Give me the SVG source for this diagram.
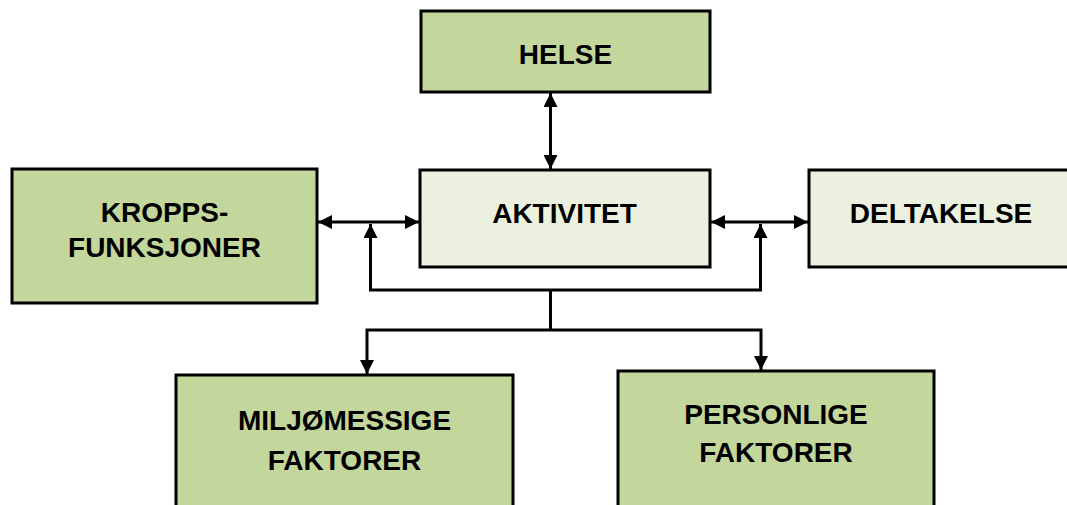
<svg xmlns="http://www.w3.org/2000/svg" width="1067" height="505" viewBox="0 0 1067 505">
<style>
.box{stroke:#000;stroke-width:3}
.g{fill:#C3D69B}
.l{fill:#EBF1DE}
text{font-family:"Liberation Sans",Arial,sans-serif;font-weight:bold;font-size:28px;fill:#000;text-anchor:middle}
.c{fill:none;stroke:#000;stroke-width:3}
</style>
<defs>
<marker id="ah" markerUnits="userSpaceOnUse" markerWidth="14" markerHeight="14" viewBox="0 0 14 14" refX="14" refY="7" orient="auto-start-reverse">
<path d="M0,0 L14,7 L0,14 z" fill="#000"/>
</marker>
</defs>
<rect width="1067" height="505" fill="#fff"/>
<g id="connectors">
<line class="c" x1="550.5" y1="93" x2="550.5" y2="169" marker-start="url(#ah)" marker-end="url(#ah)"/>
<line class="c" x1="318" y1="222" x2="419" y2="222" marker-start="url(#ah)" marker-end="url(#ah)"/>
<line class="c" x1="711" y1="222" x2="808" y2="222" marker-start="url(#ah)" marker-end="url(#ah)"/>
<polyline class="c" points="370.5,224 370.5,290 760.5,290 760.5,224" marker-start="url(#ah)" marker-end="url(#ah)"/>
<line class="c" x1="550.5" y1="290" x2="550.5" y2="330"/>
<polyline class="c" points="367,374 367,330 761,330 761,370" marker-start="url(#ah)" marker-end="url(#ah)"/>
</g>
<g id="helse">
<rect class="box g" x="421" y="11" width="289" height="81"/>
<text x="565.5" y="64">HELSE</text>
</g>
<g id="aktivitet">
<rect class="box l" x="420" y="170" width="290" height="97"/>
<text x="564.5" y="223">AKTIVITET</text>
</g>
<g id="kroppsfunksjoner">
<rect class="box g" x="12" y="169" width="305" height="134"/>
<text x="164.5" y="222">KROPPS-</text>
<text x="164.5" y="257">FUNKSJONER</text>
</g>
<g id="deltakelse">
<rect class="box l" x="809" y="170" width="270" height="97"/>
<text x="941" y="223">DELTAKELSE</text>
</g>
<g id="miljomessige">
<rect class="box g" x="176" y="375" width="337" height="140"/>
<text x="344.5" y="430">MILJØMESSIGE</text>
<text x="344.5" y="470">FAKTORER</text>
</g>
<g id="personlige">
<rect class="box g" x="618" y="371" width="316" height="144"/>
<text x="776" y="424">PERSONLIGE</text>
<text x="776" y="462">FAKTORER</text>
</g>
</svg>
